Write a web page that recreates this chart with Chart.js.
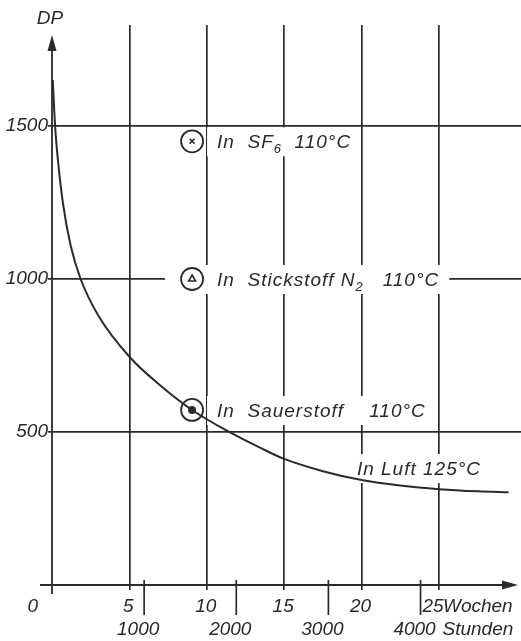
<!DOCTYPE html>
<html>
<head>
<meta charset="utf-8">
<script src="https://cdn.jsdelivr.net/npm/chart.js@4/dist/chart.umd.min.js"></script>
<style>
  html, body { margin: 0; padding: 0; background: #fff; }
  canvas { display: block; }
</style>
</head>
<body>
<canvas id="c" width="521" height="641"></canvas>
<script>
// Degree of polymerisation (DP) of paper insulation over ageing time.
// Curve: ageing in air at 125 °C.
const luftWeeks = [0.05, 0.2, 0.4, 0.7, 1.2, 1.85, 3, 5, 7, 9.05, 11.45, 13.5, 15, 17.5, 20, 22.5, 25, 27.5, 29.5];
const luftDP    = [1650, 1500, 1380, 1250, 1110, 1000, 880, 746, 652, 572, 500, 447, 412, 372, 343, 325, 313, 306, 303];
const luftLabel = 'In Luft 125°C';

// Single results in other atmospheres at 110 °C
const gasWeeks  = [9.05, 9.05, 9.05];
const gasDP     = [1450, 1000, 572];
const gasLabels = ['In  SF_6  110°C', 'In  Stickstoff N_2   110°C', 'In  Sauerstoff    110°C'];
const gasSymbols = ['crossRot', 'triangle', 'circle'];

// Axes
const weekTicks = [0, 5, 10, 15, 20, 25];
const weekUnit  = 'Wochen';
const hourTicks = [1000, 2000, 3000, 4000];
const hourUnit  = 'Stunden';
const hoursPerWeek = 168;
const dpTicks   = [500, 1000, 1500];
const yTitle    = 'DP';

const INK  = '#2a2a2a';
const FONT = "'Liberation Sans', Arial, sans-serif";
const SIZE = 19;

// Draws text with "_n" subscripts; returns its width
function drawRich(ctx, str, x, y, measureOnly) {
  const parts = str.split(/_(\d)/);
  let cx = x;
  parts.forEach((p, i) => {
    const sub = i % 2 === 1;
    ctx.font = `italic ${sub ? 13 : SIZE}px ${FONT}`;
    ctx.letterSpacing = '1px';
    if (!measureOnly) ctx.fillText(p, cx, y + (sub ? 5 : 0));
    cx += ctx.measureText(p).width;
  });
  ctx.letterSpacing = '0px';
  return cx - x;
}

const decor = {
  id: 'decor',
  // white label boxes interrupt the grid, curve stays on top
  beforeDatasetsDraw(chart, args, opts) {
    const { ctx, scales: { x, y } } = chart;
    ctx.save();
    ctx.textBaseline = 'alphabetic';
    ctx.textAlign = 'left';
    const items = gasLabels.map((t, i) => ({
      text: t,
      px: x.getPixelForValue(gasWeeks[i]) + opts.labelGap,
      py: y.getPixelForValue(gasDP[i]),
      padL: opts.boxLeft[i], padR: opts.boxRight[i]
    }));
    items.push({
      text: luftLabel,
      px: x.getPixelForValue(opts.luftAt[0]),
      py: y.getPixelForValue(opts.luftAt[1]),
      padL: 5, padR: 5
    });
    items.forEach(it => {
      const w = drawRich(ctx, it.text, it.px, 0, true);
      ctx.fillStyle = '#fff';
      ctx.fillRect(it.px - it.padL, it.py - 14, w + it.padL + it.padR, 29);
      ctx.fillStyle = INK;
      drawRich(ctx, it.text, it.px, it.py + 7, false);
    });
    ctx.restore();
  },
  afterDraw(chart) {
    const { ctx, chartArea: a, scales: { x, y } } = chart;
    ctx.save();
    ctx.strokeStyle = INK;
    ctx.fillStyle = INK;
    ctx.lineWidth = 1.8;
    ctx.lineCap = 'butt';

    // y axis with arrow
    const x0 = x.getPixelForValue(0);
    ctx.beginPath();
    ctx.moveTo(x0, a.bottom + 9);
    ctx.lineTo(x0, a.top + 24);
    ctx.stroke();
    ctx.beginPath();
    ctx.moveTo(x0, a.top + 10);
    ctx.lineTo(x0 - 4.5, a.top + 26);
    ctx.lineTo(x0 + 4.5, a.top + 26);
    ctx.closePath();
    ctx.fill();

    // x axis with arrow
    const y0 = y.getPixelForValue(0);
    ctx.beginPath();
    ctx.moveTo(a.left - 12, y0);
    ctx.lineTo(a.right - 16, y0);
    ctx.stroke();
    ctx.beginPath();
    ctx.moveTo(a.right - 3, y0);
    ctx.lineTo(a.right - 19, y0 - 4.5);
    ctx.lineTo(a.right - 19, y0 + 4.5);
    ctx.closePath();
    ctx.fill();

    // hour ticks under the week axis
    ctx.lineWidth = 1.7;
    hourTicks.forEach(h => {
      const px = x.getPixelForValue(h / hoursPerWeek);
      ctx.beginPath();
      ctx.moveTo(px, y0 - 5);
      ctx.lineTo(px, y0 + 30);
      ctx.stroke();
    });

    ctx.font = `italic ${SIZE}px ${FONT}`;
    ctx.textBaseline = 'alphabetic';

    // week labels
    const lastWeek = weekTicks[weekTicks.length - 1];
    weekTicks.forEach(w => {
      const px = x.getPixelForValue(w);
      if (w === 0) {
        ctx.textAlign = 'right';
        ctx.fillText(String(w), px - 14, y0 + 27);
      } else {
        ctx.textAlign = 'center';
        ctx.fillText(String(w), w === lastWeek ? px - 6 : px - 1, y0 + 27);
      }
    });
    ctx.textAlign = 'left';
    ctx.fillText(weekUnit, x.getPixelForValue(lastWeek) + 4, y0 + 27);

    // hour labels
    const lastHour = hourTicks[hourTicks.length - 1];
    hourTicks.forEach(h => {
      const px = x.getPixelForValue(h / hoursPerWeek);
      ctx.textAlign = 'center';
      ctx.fillText(String(h), px - 6, y0 + 50);
    });
    ctx.textAlign = 'left';
    ctx.fillText(hourUnit, x.getPixelForValue(lastHour / hoursPerWeek) + 22, y0 + 50);

    // axis title
    ctx.textAlign = 'center';
    ctx.fillText(yTitle, x0 - 2, 24);
    ctx.restore();
  }
};

const pts = (xs, ys) => xs.map((v, i) => ({ x: v, y: ys[i] }));

new Chart(document.getElementById('c'), {
  type: 'scatter',
  data: {
    datasets: [
      {
        label: luftLabel,
        data: pts(luftWeeks, luftDP),
        showLine: true,
        borderColor: INK,
        borderWidth: 2,
        pointRadius: 0,
        cubicInterpolationMode: 'monotone',
        order: 0
      },
      {
        label: 'Symbole',
        data: pts(gasWeeks, gasDP),
        pointStyle: gasSymbols,
        pointRadius: [3.5, 4, 3.2],
        pointBackgroundColor: ['rgba(0,0,0,0)', 'rgba(0,0,0,0)', INK],
        pointBorderColor: INK,
        pointBorderWidth: 1.6,
        order: 1
      },
      {
        label: 'Kreise',
        data: pts(gasWeeks, gasDP),
        pointStyle: 'circle',
        pointRadius: 11,
        pointBackgroundColor: '#fff',
        pointBorderColor: INK,
        pointBorderWidth: 1.8,
        order: 2
      }
    ]
  },
  options: {
    responsive: false,
    animation: false,
    devicePixelRatio: 1,
    layout: { autoPadding: false, padding: { top: 25, right: 0, left: 0, bottom: 0 } },
    events: [],
    plugins: {
      legend: { display: false },
      tooltip: { enabled: false },
      decor: {
        labelGap: 25,
        boxLeft: [10, 52, 10],
        boxRight: [8, 10, 6],
        luftAt: [19.7, 382]
      }
    },
    scales: {
      x: {
        type: 'linear',
        min: 0,
        max: 30.3,
        afterBuildTicks: s => { s.ticks = weekTicks.map(v => ({ value: v })); },
        afterFit: s => { s.height = 56; s.paddingLeft = 0; s.paddingRight = 0; },
        grid: {
          color: c => (c.tick && c.tick.value === 0) ? 'rgba(0,0,0,0)' : INK,
          lineWidth: 1.7,
          tickLength: 5,
          drawTicks: true
        },
        border: { display: false },
        ticks: { display: false }
      },
      y: {
        type: 'linear',
        min: 0,
        max: 1830,
        afterBuildTicks: s => { s.ticks = dpTicks.map(v => ({ value: v })); },
        afterFit: s => { s.width = 52; s.paddingTop = 0; s.paddingBottom = 0; },
        grid: { color: INK, lineWidth: 1.7, tickLength: 4 },
        border: { display: false },
        ticks: {
          font: { family: FONT, size: SIZE, style: 'italic' },
          color: INK,
          padding: 0,
          callback: v => String(v)
        }
      }
    }
  },
  plugins: [decor]
});
</script>
</body>
</html>
